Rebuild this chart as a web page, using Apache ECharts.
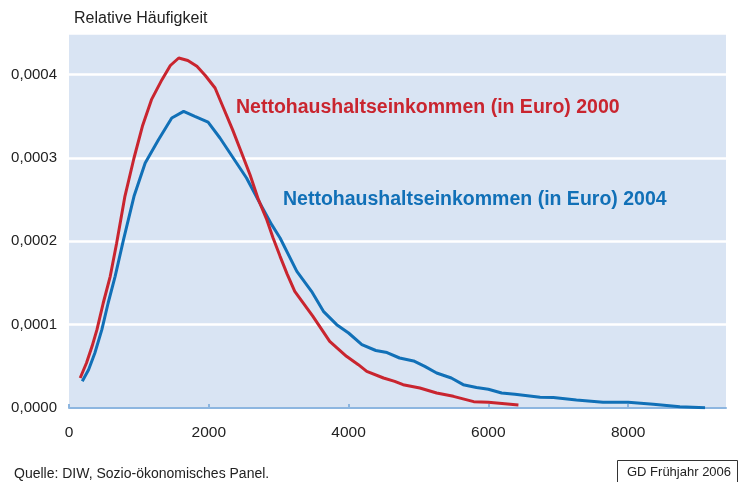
<!DOCTYPE html>
<html>
<head>
<meta charset="utf-8">
<script src="https://cdn.jsdelivr.net/npm/echarts@6/dist/echarts.min.js"></script>
<style>
  html, body { margin: 0; padding: 0; background: #ffffff; }
  #chart { width: 738px; height: 482px; }
</style>
</head>
<body>
<div id="chart"></div>
<script>
// Einkommen (Euro) und relative Häufigkeit, 2000
const income2000 = [160, 250, 330, 400, 490, 590, 680, 800, 930, 1050, 1180, 1330, 1450, 1570, 1700, 1830, 1950, 2090, 2210, 2340, 2470, 2590, 2710, 2830, 2920, 3020, 3120, 3230, 3490, 3730, 3970, 4140, 4260, 4500, 4660, 4780, 5020, 5260, 5500, 5790, 6000, 6430]
const density2000 = [0.000036, 0.000054, 0.000074, 0.000094, 0.000126, 0.000158, 0.000197, 0.000254, 0.000300, 0.000338, 0.000370, 0.000394, 0.000411, 0.000420, 0.000417, 0.000410, 0.000399, 0.000384, 0.000360, 0.000334, 0.000306, 0.000280, 0.000250, 0.000226, 0.000204, 0.000182, 0.000161, 0.000140, 0.000110, 0.000080, 0.000062, 0.000052, 0.000044, 0.000036, 0.000032, 0.000028, 0.000024, 0.000018, 0.000014, 0.0000076, 0.0000068, 0.0000036]

// Einkommen (Euro) und relative Häufigkeit, 2004
const income2004 = [190, 280, 370, 470, 560, 660, 780, 930, 1090, 1280, 1470, 1640, 1800, 1990, 2160, 2350, 2540, 2730, 2900, 3020, 3260, 3470, 3640, 3830, 4000, 4190, 4390, 4550, 4730, 4930, 5090, 5260, 5470, 5640, 5830, 6000, 6190, 6380, 6740, 6930, 7260, 7640, 8000, 8360, 8740, 9100]
const density2004 = [0.000032, 0.000046, 0.000066, 0.000094, 0.000126, 0.000158, 0.000202, 0.000254, 0.000294, 0.000322, 0.000348, 0.000356, 0.000350, 0.000343, 0.000324, 0.000300, 0.000276, 0.000246, 0.000220, 0.000204, 0.000164, 0.000140, 0.000116, 0.000100, 0.000090, 0.000076, 0.000069, 0.0000665, 0.000060, 0.0000565, 0.000050, 0.000042, 0.000036, 0.000028, 0.0000245, 0.0000225, 0.000018, 0.0000165, 0.000013, 0.0000125, 0.0000096, 0.0000068, 0.0000068, 0.0000044, 0.0000016, 0.0000004]

// Achsen
const xTicks = [0, 2000, 4000, 6000, 8000]
const yTicks = [0, 0.0001, 0.0002, 0.0003, 0.0004]

const seriesNames = ['Nettohaushaltseinkommen (in Euro) 2000', 'Nettohaushaltseinkommen (in Euro) 2004']
const yAxisTitle = 'Relative Häufigkeit'
const sourceText = 'Quelle: DIW, Sozio-ökonomisches Panel.'
const badgeText = 'GD Frühjahr 2006'

const RED = '#c9252f'
const BLUE = '#1170b7'
const FONT = '"Liberation Sans", Arial, sans-serif'

const toPairs = (xs, ys) => xs.map((x, i) => [x, ys[i]])
const isTick = (ticks, v) => ticks.some(t => Math.abs(t - v) < 1e-9)

const chart = echarts.init(document.getElementById('chart'))

const option = {
  animation: false,
  textStyle: { fontFamily: FONT },
  grid: {
    left: 69,
    right: 12,
    top: 33,
    bottom: 74,
    show: true,
    backgroundColor: '#d9e4f3',
    borderWidth: 0
  },
  xAxis: {
    type: 'value',
    min: 0,
    max: 9400,
    interval: 2000,
    axisLine: { show: true, onZero: false, lineStyle: { color: '#8db6e0', width: 2 } },
    axisTick: { show: true, inside: true, length: 4, customValues: xTicks, lineStyle: { color: '#8db6e0', width: 2 } },
    axisLabel: {
      color: '#222',
      fontSize: 15.5,
      fontFamily: FONT,
      margin: 17,
      formatter: v => isTick(xTicks, v) ? String(v) : ''
    },
    splitLine: { show: false }
  },
  yAxis: {
    type: 'value',
    min: 0,
    max: 0.00045,
    interval: 0.0001,
    axisLine: { show: false },
    axisTick: { show: false },
    axisLabel: {
      color: '#222',
      fontSize: 15,
      fontFamily: FONT,
      margin: 12,
      formatter: v => isTick(yTicks, v) ? v.toFixed(4).replace('.', ',') : ''
    },
    splitLine: { show: true, lineStyle: { color: '#ffffff', width: 2.5 } }
  },
  series: [
    {
      name: seriesNames[1],
      type: 'line',
      data: toPairs(income2004, density2004),
      showSymbol: false,
      symbol: 'none',
      lineStyle: { color: BLUE, width: 3 },
      z: 2
    },
    {
      name: seriesNames[0],
      type: 'line',
      data: toPairs(income2000, density2000),
      showSymbol: false,
      symbol: 'none',
      lineStyle: { color: RED, width: 3 },
      z: 3
    }
  ],
  graphic: [
    {
      type: 'text',
      left: 74,
      top: 11,
      style: { text: yAxisTitle, fill: '#222', font: '16px ' + FONT }
    },
    {
      type: 'text',
      left: 236,
      top: 98,
      style: { text: seriesNames[0], fill: RED, font: 'bold 19.5px ' + FONT }
    },
    {
      type: 'text',
      left: 283,
      top: 190,
      style: { text: seriesNames[1], fill: BLUE, font: 'bold 19.5px ' + FONT }
    },
    {
      type: 'text',
      left: 14,
      top: 467,
      style: { text: sourceText, fill: '#222', font: '14px ' + FONT }
    },
    {
      type: 'rect',
      left: 617,
      top: 460,
      shape: { width: 120, height: 26 },
      style: { fill: '#ffffff', stroke: '#333', lineWidth: 1 }
    },
    {
      type: 'text',
      left: 627,
      top: 466,
      z: 10,
      style: { text: badgeText, fill: '#222', font: '13px ' + FONT }
    }
  ]
}

chart.setOption(option)
</script>
</body>
</html>
